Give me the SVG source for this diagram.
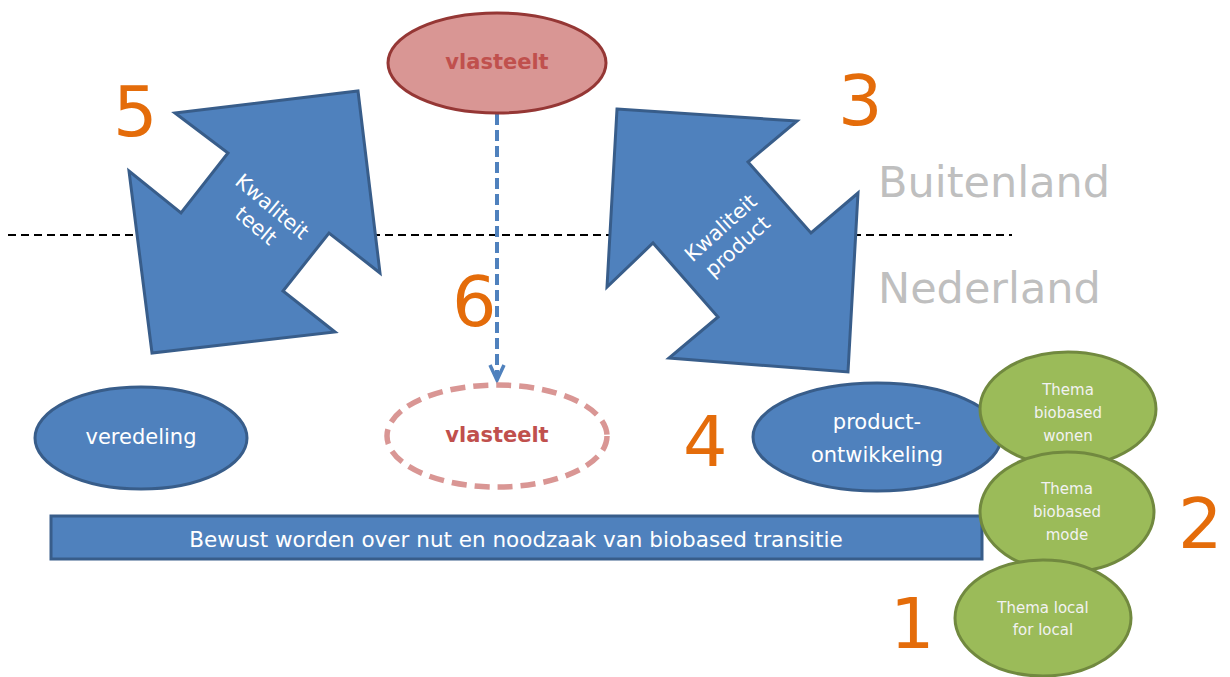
<svg xmlns="http://www.w3.org/2000/svg" width="1230" height="677" viewBox="0 0 1230 677">
<style>
.num{font-family:"DejaVu Sans",Verdana,sans-serif;fill:#e46c0a;font-size:70px}
.land{font-family:"DejaVu Sans",Verdana,sans-serif;fill:#bfbfbf;font-size:43px}
.wt{font-family:"DejaVu Sans",Verdana,sans-serif;fill:#ffffff;text-anchor:middle}
.red{font-family:"DejaVu Sans",Verdana,sans-serif;fill:#c0504d;font-weight:bold;font-size:21px;text-anchor:middle}
.blue{fill:#4f81bd;stroke:#385d8a;stroke-width:3}
.green{fill:#9bbb59;stroke:#71893f;stroke-width:3}
.gt{font-family:"DejaVu Sans",Verdana,sans-serif;fill:#f2f2f2;font-size:15px;text-anchor:middle}
</style>
<rect width="1230" height="677" fill="#ffffff"/>
<g id="border-line">
<line x1="8" y1="235" x2="1012" y2="235" stroke="#000" stroke-width="2" stroke-dasharray="8,5"/>
</g>
<g id="labels">
<text class="land" x="878" y="197">Buitenland</text>
<text class="land" x="878" y="303">Nederland</text>
<text class="num" x="113" y="136">5</text>
<text class="num" x="838" y="125">3</text>
<text class="num" x="452" y="326">6</text>
<text class="num" x="683" y="466">4</text>
<text class="num" x="1178" y="548">2</text>
<text class="num" x="890" y="648">1</text>
</g>
<g id="arrow-teelt">
<polygon class="blue" points="175,113 358,91 380,273 329,233 283,291 335,332 152,353 129,171 181,213 228,153"/>
<text class="wt" font-size="20.5" transform="translate(265,215) rotate(40)"><tspan x="0" y="-4">Kwaliteit</tspan><tspan x="0" y="21">teelt</tspan></text>
</g>
<g id="arrow-product">
<polygon class="blue" points="617,109 797,121 748,162 811,233 858,193 848,372 669,358 718,317 653,243 607,287"/>
<text class="wt" font-size="20.5" transform="translate(728,236) rotate(-42)"><tspan x="0" y="-4">Kwaliteit</tspan><tspan x="0" y="21">product</tspan></text>
</g>
<g id="connectors">
<line x1="497" y1="114" x2="497" y2="378" stroke="#4f81bd" stroke-width="4" stroke-dasharray="11,5"/>
<polyline points="490,365 497,380 504,365" fill="none" stroke="#4f81bd" stroke-width="3.5"/>
</g>
<g id="vlasteelt-top">
<ellipse cx="497" cy="63" rx="109" ry="50" fill="#d99694" stroke="#953735" stroke-width="3"/>
<text class="red" x="497" y="69">vlasteelt</text>
</g>
<g id="vlasteelt-bottom">
<ellipse cx="497" cy="436" rx="110" ry="51" fill="none" stroke="#d99694" stroke-width="5.5" stroke-dasharray="15,8"/>
<text class="red" x="497" y="442">vlasteelt</text>
</g>
<g id="veredeling">
<ellipse class="blue" cx="141" cy="438" rx="106" ry="51"/>
<text class="wt" font-size="21" x="141" y="444">veredeling</text>
</g>
<g id="bewust">
<rect class="blue" x="51" y="516" width="931" height="43"/>
<text class="wt" font-size="21.5" x="516" y="547">Bewust worden over nut en noodzaak van biobased transitie</text>
</g>
<g id="productontwikkeling">
<ellipse class="blue" cx="877" cy="437" rx="124" ry="54"/>
<text class="wt" font-size="21" x="877" y="429">product-</text>
<text class="wt" font-size="21" x="877" y="462">ontwikkeling</text>
</g>
<g id="thema-wonen">
<ellipse class="green" cx="1068" cy="409" rx="88" ry="57"/>
<text class="gt" x="1068" y="395">Thema</text>
<text class="gt" x="1068" y="418">biobased</text>
<text class="gt" x="1068" y="441">wonen</text>
</g>
<g id="thema-mode">
<ellipse class="green" cx="1067" cy="512" rx="87" ry="60"/>
<text class="gt" x="1067" y="494">Thema</text>
<text class="gt" x="1067" y="517">biobased</text>
<text class="gt" x="1067" y="540">mode</text>
</g>
<g id="thema-local">
<ellipse class="green" cx="1043" cy="618" rx="88" ry="58"/>
<text class="gt" x="1043" y="613">Thema local</text>
<text class="gt" x="1043" y="635">for local</text>
</g>
</svg>
